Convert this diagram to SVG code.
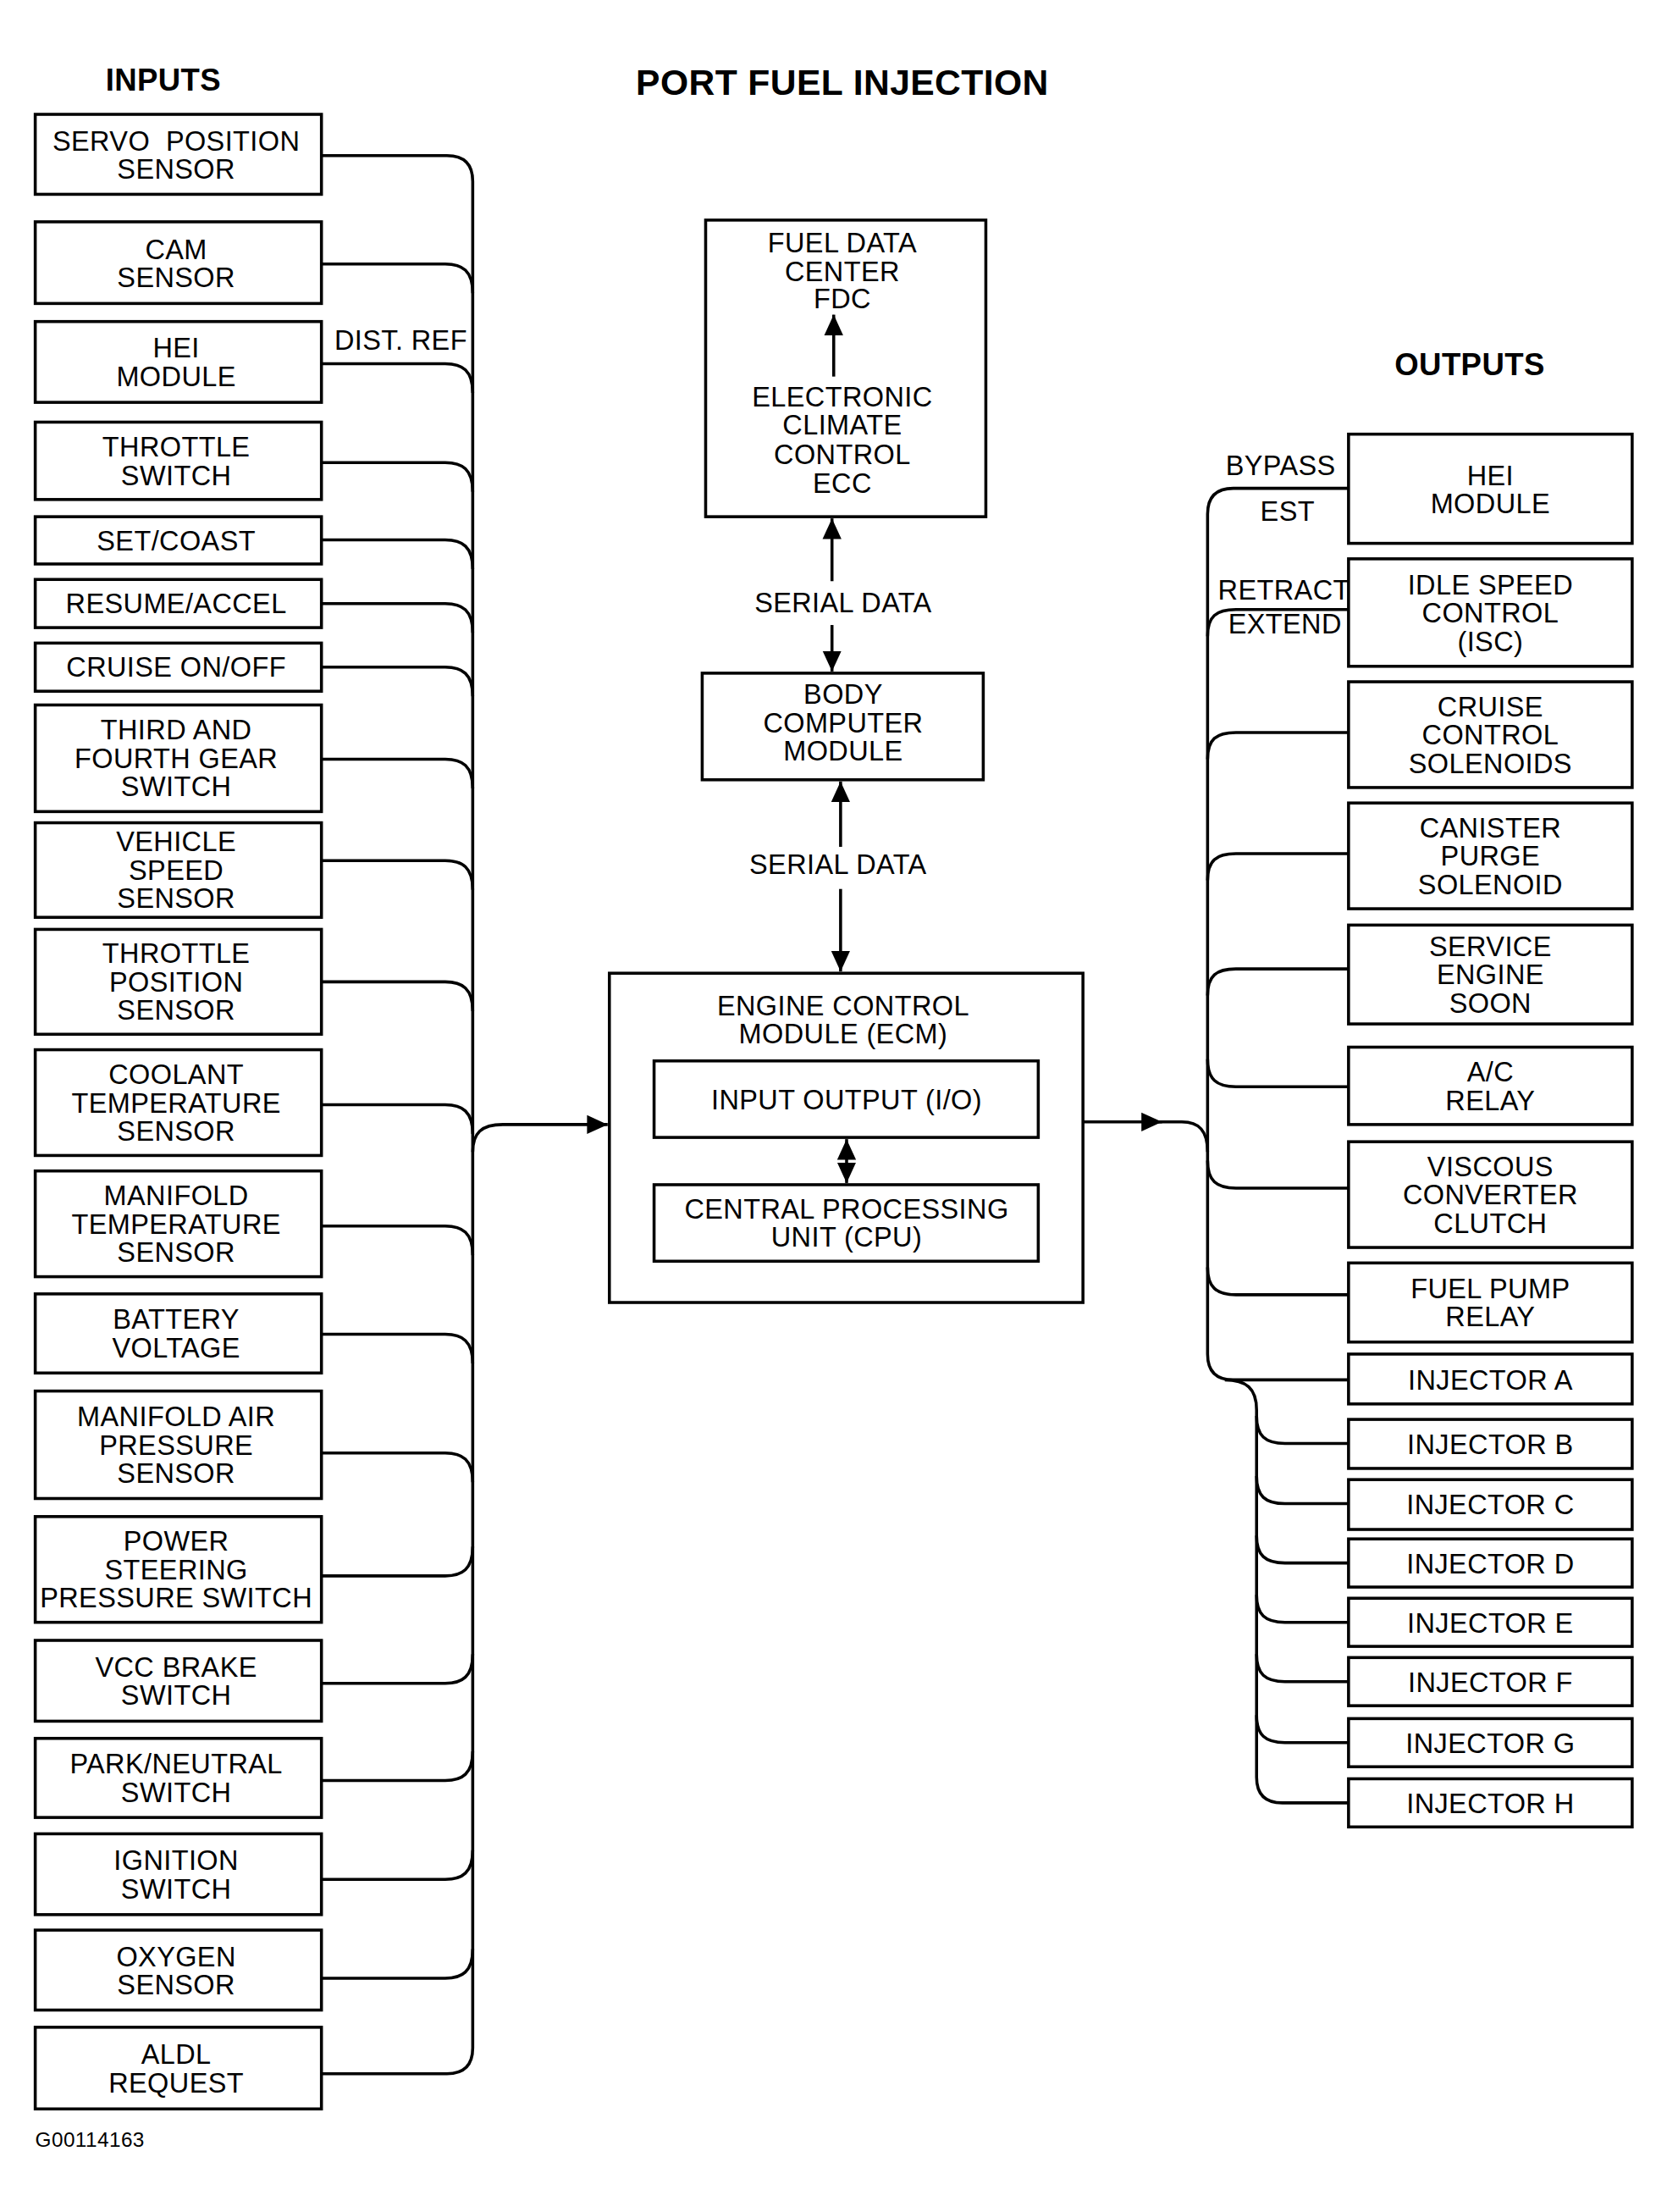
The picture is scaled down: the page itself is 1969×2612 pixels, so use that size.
<svg xmlns="http://www.w3.org/2000/svg" width="1969" height="2612" viewBox="0 0 1969 2612">
<defs>
<style>
.bx{fill:#fff;stroke:#000;stroke-width:3.5}
.ln{fill:none;stroke:#000;stroke-width:3.5}
text{font-family:"Liberation Sans",Arial,sans-serif;font-size:32px;fill:#000;letter-spacing:0.4px}
.c{text-anchor:middle}
.h{font-weight:bold;font-size:36px}
</style>
<marker id="ah" markerUnits="userSpaceOnUse" markerWidth="26" markerHeight="24" refX="24" refY="12" orient="auto-start-reverse"><path d="M0,1 L24,12 L0,23 z" fill="#000"/></marker>
</defs>
<rect width="1969" height="2612" fill="#fff"/>
<g transform="scale(1.0152)">
<text x="980" y="110" class="c" style="font-weight:bold;font-size:42px">PORT FUEL INJECTION</text>
<text x="190" y="105" class="c h">INPUTS</text>
<text x="1710" y="436" class="c h">OUTPUTS</text>
<text x="41" y="2497" style="font-size:24px">G00114163</text>

<g id="connectors">
<path class="ln" d="M374,181 H520 Q550,181 550,211 V2382 Q550,2412 520,2412 H374"/>
<path class="ln" d="M374,307 H518 C538,307 550,315 550,341"/>
<path class="ln" d="M374,423 H518 C538,423 550,431 550,457"/>
<path class="ln" d="M374,538 H518 C538,538 550,546 550,572"/>
<path class="ln" d="M374,628 H518 C538,628 550,636 550,662"/>
<path class="ln" d="M374,702 H518 C538,702 550,710 550,736"/>
<path class="ln" d="M374,776 H518 C538,776 550,784 550,810"/>
<path class="ln" d="M374,883 H518 C538,883 550,891 550,917"/>
<path class="ln" d="M374,1001 H518 C538,1001 550,1009 550,1035"/>
<path class="ln" d="M374,1142 H518 C538,1142 550,1150 550,1176"/>
<path class="ln" d="M374,1285 H518 C538,1285 550,1293 550,1319"/>
<path class="ln" d="M374,1426 H518 C538,1426 550,1434 550,1460"/>
<path class="ln" d="M374,1552 H518 C538,1552 550,1560 550,1586"/>
<path class="ln" d="M374,1690 H518 C538,1690 550,1698 550,1724"/>
<path class="ln" d="M374,1833 H518 C538,1833 550,1825 550,1799"/>
<path class="ln" d="M374,1958 H518 C538,1958 550,1950 550,1924"/>
<path class="ln" d="M374,2071 H518 C538,2071 550,2063 550,2037"/>
<path class="ln" d="M374,2186 H518 C538,2186 550,2178 550,2152"/>
<path class="ln" d="M374,2301 H518 C538,2301 550,2293 550,2267"/>
<text x="389" y="407">DIST. REF</text>
<path class="ln" d="M550,1340 C550,1318 560,1308 585,1308 H707" marker-end="url(#ah)"/>
<path class="ln" d="M968,676 V603" marker-end="url(#ah)"/>
<path class="ln" d="M968,727 V781" marker-end="url(#ah)"/>
<text x="981" y="712" class="c">SERIAL DATA</text>
<path class="ln" d="M978,985 V909" marker-end="url(#ah)"/>
<path class="ln" d="M978,1034 V1130" marker-end="url(#ah)"/>
<text x="975" y="1017" class="c">SERIAL DATA</text>
<path class="ln" d="M970,438 V366" marker-end="url(#ah)"/>
<path class="ln" d="M985,1325 V1376" marker-start="url(#ah)" marker-end="url(#ah)"/>
<path class="ln" d="M1260,1305 H1352" marker-end="url(#ah)"/>
<path class="ln" d="M1340,1305 H1375 C1395,1305 1405,1315 1405,1340"/>
<path class="ln" d="M1569,568 H1435 Q1405,568 1405,598 V1575 Q1405,1605 1435,1605 H1569"/>
<path class="ln" d="M1405,740 C1405,717 1415,709 1438,709 H1569"/>
<path class="ln" d="M1405,883 C1405,860 1415,852 1438,852 H1569"/>
<path class="ln" d="M1405,1024 C1405,1001 1415,993 1438,993 H1569"/>
<path class="ln" d="M1405,1158 C1405,1135 1415,1127 1438,1127 H1569"/>
<path class="ln" d="M1405,1232 C1405,1255 1415,1264 1438,1264 H1569"/>
<path class="ln" d="M1405,1350 C1405,1373 1415,1382 1438,1382 H1569"/>
<path class="ln" d="M1405,1474 C1405,1497 1415,1506 1438,1506 H1569"/>
<path class="ln" d="M1425,1605 C1450,1605 1462,1615 1462,1640 V2067 Q1462,2097 1492,2097 H1569"/>
<path class="ln" d="M1462,1647 C1462,1670 1472,1679 1495,1679 H1569"/>
<path class="ln" d="M1462,1717 C1462,1740 1472,1749 1495,1749 H1569"/>
<path class="ln" d="M1462,1786 C1462,1809 1472,1818 1495,1818 H1569"/>
<path class="ln" d="M1462,1855 C1462,1878 1472,1887 1495,1887 H1569"/>
<path class="ln" d="M1462,1924 C1462,1947 1472,1956 1495,1956 H1569"/>
<path class="ln" d="M1462,1995 C1462,2018 1472,2027 1495,2027 H1569"/>
<text x="1490" y="553" class="c">BYPASS</text>
<text x="1498" y="606" class="c">EST</text>
<text x="1494" y="697" class="c">RETRACT</text>
<text x="1495" y="737" class="c">EXTEND</text>
</g>

<g id="in1"><rect class="bx" x="41" y="133" width="333" height="93"/><text x="205" y="175" class="c" xml:space="preserve">SERVO  POSITION</text><text x="205" y="208" class="c">SENSOR</text></g>
<g id="in2"><rect class="bx" x="41" y="258" width="333" height="95"/><text x="205" y="301" class="c">CAM</text><text x="205" y="334" class="c">SENSOR</text></g>
<g id="in3"><rect class="bx" x="41" y="374" width="333" height="94"/><text x="205" y="416" class="c">HEI</text><text x="205" y="449" class="c">MODULE</text></g>
<g id="in4"><rect class="bx" x="41" y="491" width="333" height="90"/><text x="205" y="531" class="c">THROTTLE</text><text x="205" y="564" class="c">SWITCH</text></g>
<g id="in5"><rect class="bx" x="41" y="601" width="333" height="55"/><text x="205" y="640" class="c">SET/COAST</text></g>
<g id="in6"><rect class="bx" x="41" y="674" width="333" height="56"/><text x="205" y="713" class="c">RESUME/ACCEL</text></g>
<g id="in7"><rect class="bx" x="41" y="748" width="333" height="56"/><text x="205" y="787" class="c">CRUISE ON/OFF</text></g>
<g id="in8"><rect class="bx" x="41" y="820" width="333" height="124"/><text x="205" y="860" class="c">THIRD AND</text><text x="205" y="893" class="c">FOURTH GEAR</text><text x="205" y="926" class="c">SWITCH</text></g>
<g id="in9"><rect class="bx" x="41" y="957" width="333" height="110"/><text x="205" y="990" class="c">VEHICLE</text><text x="205" y="1023" class="c">SPEED</text><text x="205" y="1056" class="c">SENSOR</text></g>
<g id="in10"><rect class="bx" x="41" y="1081" width="333" height="122"/><text x="205" y="1120" class="c">THROTTLE</text><text x="205" y="1153" class="c">POSITION</text><text x="205" y="1186" class="c">SENSOR</text></g>
<g id="in11"><rect class="bx" x="41" y="1221" width="333" height="123"/><text x="205" y="1261" class="c">COOLANT</text><text x="205" y="1294" class="c">TEMPERATURE</text><text x="205" y="1327" class="c">SENSOR</text></g>
<g id="in12"><rect class="bx" x="41" y="1362" width="333" height="123"/><text x="205" y="1402" class="c">MANIFOLD</text><text x="205" y="1435" class="c">TEMPERATURE</text><text x="205" y="1468" class="c">SENSOR</text></g>
<g id="in13"><rect class="bx" x="41" y="1505" width="333" height="92"/><text x="205" y="1546" class="c">BATTERY</text><text x="205" y="1579" class="c">VOLTAGE</text></g>
<g id="in14"><rect class="bx" x="41" y="1618" width="333" height="125"/><text x="205" y="1659" class="c">MANIFOLD AIR</text><text x="205" y="1692" class="c">PRESSURE</text><text x="205" y="1725" class="c">SENSOR</text></g>
<g id="in15"><rect class="bx" x="41" y="1764" width="333" height="123"/><text x="205" y="1804" class="c">POWER</text><text x="205" y="1837" class="c">STEERING</text><text x="205" y="1870" class="c">PRESSURE SWITCH</text></g>
<g id="in16"><rect class="bx" x="41" y="1908" width="333" height="94"/><text x="205" y="1950" class="c">VCC BRAKE</text><text x="205" y="1983" class="c">SWITCH</text></g>
<g id="in17"><rect class="bx" x="41" y="2022" width="333" height="92"/><text x="205" y="2063" class="c">PARK/NEUTRAL</text><text x="205" y="2096" class="c">SWITCH</text></g>
<g id="in18"><rect class="bx" x="41" y="2133" width="333" height="94"/><text x="205" y="2175" class="c">IGNITION</text><text x="205" y="2208" class="c">SWITCH</text></g>
<g id="in19"><rect class="bx" x="41" y="2245" width="333" height="93"/><text x="205" y="2287" class="c">OXYGEN</text><text x="205" y="2320" class="c">SENSOR</text></g>
<g id="in20"><rect class="bx" x="41" y="2358" width="333" height="95"/><text x="205" y="2401" class="c">ALDL</text><text x="205" y="2434" class="c">REQUEST</text></g>

<g id="fdc"><rect class="bx" x="821" y="256" width="326" height="345" style="fill:none"/><text x="980" y="294" class="c">FUEL DATA</text><text x="980" y="327" class="c">CENTER</text><text x="980" y="359" class="c">FDC</text><text x="980" y="473" class="c">ELECTRONIC</text><text x="980" y="505" class="c">CLIMATE</text><text x="980" y="540" class="c">CONTROL</text><text x="980" y="573" class="c">ECC</text></g>
<g id="bcm"><rect class="bx" x="817" y="783" width="327" height="124"/><text x="981" y="819" class="c">BODY</text><text x="981" y="852" class="c">COMPUTER</text><text x="981" y="885" class="c">MODULE</text></g>
<g id="ecm"><rect class="bx" x="709" y="1132" width="551" height="383" style="fill:none"/><text x="981" y="1181" class="c">ENGINE CONTROL</text><text x="981" y="1214" class="c">MODULE (ECM)</text></g>
<g id="io"><rect class="bx" x="761" y="1234" width="447" height="89"/><text x="985" y="1290" class="c">INPUT OUTPUT (I/O)</text></g>
<g id="cpu"><rect class="bx" x="761" y="1378" width="447" height="89"/><text x="985" y="1417" class="c">CENTRAL PROCESSING</text><text x="985" y="1450" class="c">UNIT (CPU)</text></g>

<g id="out1"><rect class="bx" x="1569" y="505" width="330" height="127"/><text x="1734" y="564" class="c">HEI</text><text x="1734" y="597" class="c">MODULE</text></g>
<g id="out2"><rect class="bx" x="1569" y="650" width="330" height="125"/><text x="1734" y="691" class="c">IDLE SPEED</text><text x="1734" y="724" class="c">CONTROL</text><text x="1734" y="757" class="c">(ISC)</text></g>
<g id="out3"><rect class="bx" x="1569" y="793" width="330" height="123"/><text x="1734" y="833" class="c">CRUISE</text><text x="1734" y="866" class="c">CONTROL</text><text x="1734" y="899" class="c">SOLENOIDS</text></g>
<g id="out4"><rect class="bx" x="1569" y="934" width="330" height="123"/><text x="1734" y="974" class="c">CANISTER</text><text x="1734" y="1007" class="c">PURGE</text><text x="1734" y="1040" class="c">SOLENOID</text></g>
<g id="out5"><rect class="bx" x="1569" y="1076" width="330" height="115"/><text x="1734" y="1112" class="c">SERVICE</text><text x="1734" y="1145" class="c">ENGINE</text><text x="1734" y="1178" class="c">SOON</text></g>
<g id="out6"><rect class="bx" x="1569" y="1218" width="330" height="90"/><text x="1734" y="1258" class="c">A/C</text><text x="1734" y="1291" class="c">RELAY</text></g>
<g id="out7"><rect class="bx" x="1569" y="1328" width="330" height="123"/><text x="1734" y="1368" class="c">VISCOUS</text><text x="1734" y="1401" class="c">CONVERTER</text><text x="1734" y="1434" class="c">CLUTCH</text></g>
<g id="out8"><rect class="bx" x="1569" y="1469" width="330" height="92"/><text x="1734" y="1510" class="c">FUEL PUMP</text><text x="1734" y="1543" class="c">RELAY</text></g>
<g id="injA"><rect class="bx" x="1569" y="1575" width="330" height="58"/><text x="1734" y="1616" class="c">INJECTOR A</text></g>
<g id="injB"><rect class="bx" x="1569" y="1651" width="330" height="57"/><text x="1734" y="1691" class="c">INJECTOR B</text></g>
<g id="injC"><rect class="bx" x="1569" y="1721" width="330" height="58"/><text x="1734" y="1761" class="c">INJECTOR C</text></g>
<g id="injD"><rect class="bx" x="1569" y="1790" width="330" height="56"/><text x="1734" y="1830" class="c">INJECTOR D</text></g>
<g id="injE"><rect class="bx" x="1569" y="1859" width="330" height="56"/><text x="1734" y="1899" class="c">INJECTOR E</text></g>
<g id="injF"><rect class="bx" x="1569" y="1928" width="330" height="56"/><text x="1734" y="1968" class="c">INJECTOR F</text></g>
<g id="injG"><rect class="bx" x="1569" y="1999" width="330" height="56"/><text x="1734" y="2039" class="c">INJECTOR G</text></g>
<g id="injH"><rect class="bx" x="1569" y="2069" width="330" height="56"/><text x="1734" y="2109" class="c">INJECTOR H</text></g>
</g>
</svg>
